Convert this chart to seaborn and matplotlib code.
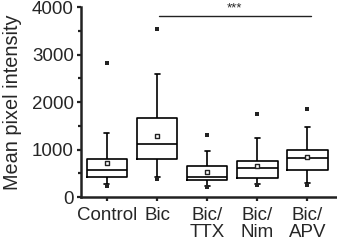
# box chart of mean pixel intensity per treatment, five-number summaries

import numpy as np
import pandas as pd
import matplotlib
matplotlib.use("Agg")
import matplotlib.pyplot as plt
import seaborn as sns
from matplotlib.ticker import MultipleLocator

groups = ["Control", "Bic", "Bic/\nTTX", "Bic/\nNim", "Bic/\nAPV"]
whisker_low = [267, 414, 238, 281, 295]
q1 = [425, 793, 351, 400, 575]
median = [568, 1109, 421, 604, 814]
q3 = [792, 1670, 653, 751, 996]
whisker_high = [1347, 2604, 975, 1249, 1474]
means = [722, 1284, 520, 653, 835]
outliers = [2835, 3537, 1305, 1747, 1860]

sns.set_theme(style="ticks")
plt.rcParams["font.family"] = ["Liberation Sans", "DejaVu Sans"]

# five values per group -> percentiles 0/25/50/75/100 land exactly on them
rows = []
for g, a, b, c, d, e in zip(groups, whisker_low, q1, median, q3, whisker_high):
    for v in (a, b, c, d, e):
        rows.append({"group": g, "value": v})
df = pd.DataFrame(rows)

fig = plt.figure(figsize=(3.37, 2.43), dpi=100)
ax = fig.add_axes([0.240, 0.189, 0.757, 0.781])

sns.boxplot(data=df, x="group", y="value", order=groups, whis=(0, 100),
            width=0.81, fill=False, color="black", linecolor="#222222",
            linewidth=1.2, ax=ax, capwidths=0.1)

pos = np.arange(len(groups))
sns.scatterplot(x=pos, y=means, marker="s", s=9, facecolor="white",
                edgecolor="#222222", linewidth=1.0, ax=ax, zorder=5)
sns.scatterplot(x=pos, y=outliers, marker="s", s=5, color="#222222",
                linewidth=0, ax=ax, zorder=5)
sns.scatterplot(x=pos, y=np.array(whisker_low) - 35, marker="s", s=9,
                color="#222222", linewidth=0, ax=ax, zorder=5)

# significance bar Bic vs Bic/APV
ax.plot([1.03, 4.07], [3820, 3820], color="#222222", lw=1.0, clip_on=False)
ax.text(2.55, 3850, "***", ha="center", va="bottom", fontsize=9.5)

ax.set_xlim(-0.52, 4.57)
ax.set_ylim(0, 4000)
ax.yaxis.set_major_locator(MultipleLocator(1000))
ax.yaxis.set_minor_locator(MultipleLocator(500))
ax.set_xlabel("")
ax.set_ylabel("Mean pixel intensity", fontsize=14.3, labelpad=7)
ax.tick_params(axis="both", labelsize=13.5, width=1.6, length=3, pad=2,
               color="#222222")
ax.tick_params(axis="y", which="minor", width=1.6, length=2.5, color="#222222")
ax.tick_params(axis="x", pad=4)
for t in ax.get_xticklabels():
    t.set_linespacing(1.0)
for s in ["left", "bottom"]:
    ax.spines[s].set_linewidth(1.8)
    ax.spines[s].set_color("#222222")
sns.despine(ax=ax)

fig.savefig("out.png", dpi=100)
